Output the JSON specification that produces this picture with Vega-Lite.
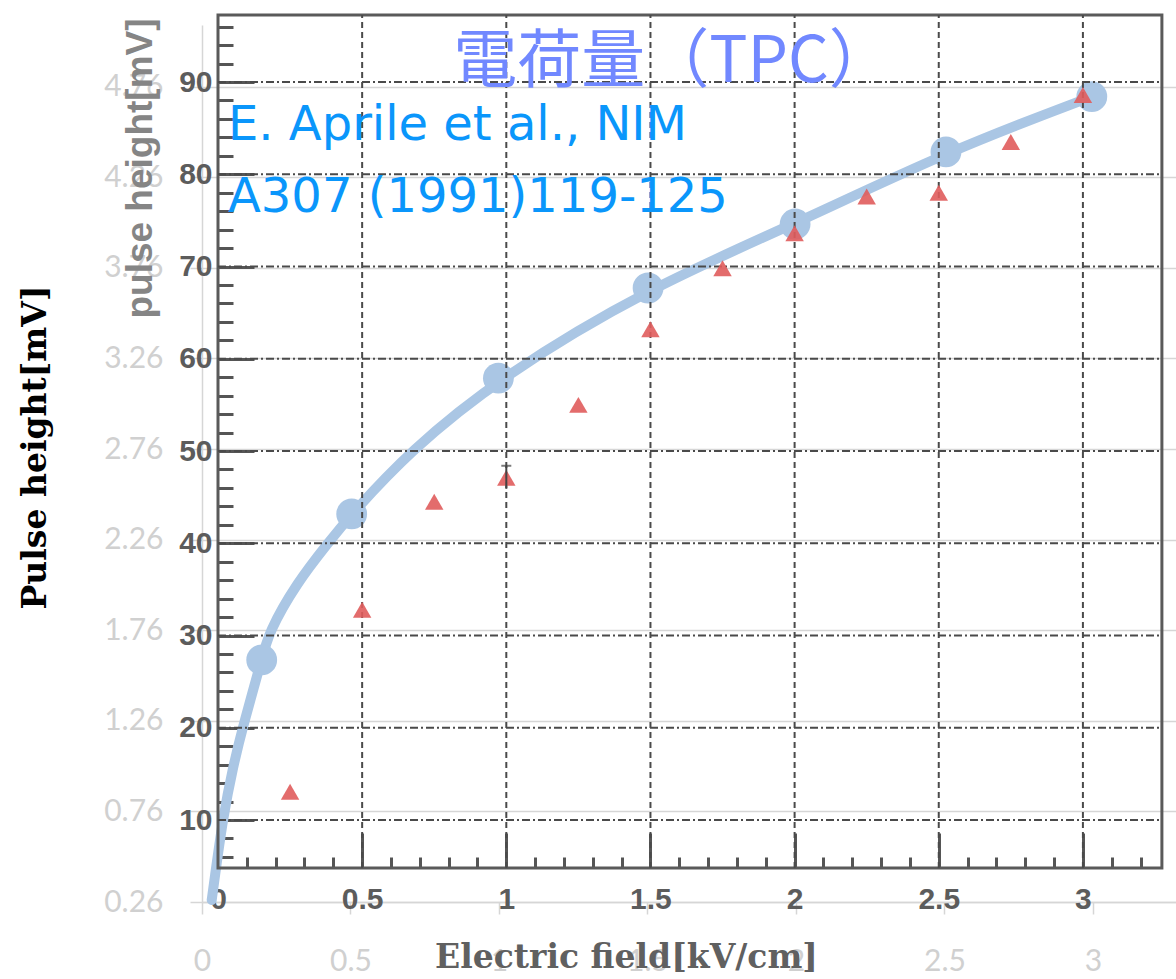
{
  "$schema": "https://vega.github.io/schema/vega-lite/v6.json",
  "width": 974,
  "height": 877,
  "autosize": {"type": "none"},
  "padding": {"left": 202, "top": 25, "right": 0, "bottom": 77},
  "background": "white",
  "config": {"view": {"stroke": null}},
  "datasets": {
    "fit": [
      {"E": 0.0327, "V": 0.271},
      {"E": 0.0404, "V": 0.365},
      {"E": 0.0707, "V": 0.729},
      {"E": 0.1044, "V": 1.005},
      {"E": 0.137, "V": 1.226},
      {"E": 0.201, "V": 1.596, "marker": true},
      {"E": 0.2232, "V": 1.745},
      {"E": 0.3189, "V": 2.021},
      {"E": 0.4242, "V": 2.241},
      {"E": 0.504, "V": 2.402, "marker": true},
      {"E": 0.7, "V": 2.749},
      {"E": 0.998, "V": 3.151, "marker": true},
      {"E": 1.502, "V": 3.649, "marker": true},
      {"E": 1.997, "V": 4.002, "marker": true},
      {"E": 2.505, "V": 4.4, "marker": true},
      {"E": 2.996, "V": 4.705, "marker": true}
    ],
    "pulse": [
      {"field": 0.25, "ph": 13.07},
      {"field": 0.5, "ph": 32.8},
      {"field": 0.75, "ph": 44.5},
      {"field": 1.0, "ph": 47.1, "lo": 45.9, "hi": 48.4},
      {"field": 1.25, "ph": 55.0},
      {"field": 1.5, "ph": 63.2},
      {"field": 1.75, "ph": 69.8},
      {"field": 2.0, "ph": 73.6},
      {"field": 2.25, "ph": 77.6},
      {"field": 2.5, "ph": 78.0},
      {"field": 2.75, "ph": 83.5},
      {"field": 3.0, "ph": 88.6}
    ],
    "hgrid": [{"g": 10}, {"g": 20}, {"g": 30}, {"g": 40}, {"g": 50}, {"g": 60}, {"g": 70}, {"g": 80}, {"g": 90}],
    "vgrid": [{"g": 0.5}, {"g": 1}, {"g": 1.5}, {"g": 2}, {"g": 2.5}, {"g": 3}]
  },
  "resolve": {"scale": {"x": "independent", "y": "independent"}},
  "layer": [
    {
      "data": {"name": "fit"},
      "mark": {"type": "line", "interpolate": "basis", "strokeWidth": 10, "color": "#aac6e4", "strokeCap": "round"},
      "encoding": {
        "x": {
          "field": "E", "type": "quantitative",
          "scale": {"domain": [0, 3.2795], "nice": false, "zero": false},
          "axis": {
            "orient": "bottom", "values": [0, 0.5, 1, 1.5, 2, 2.5, 3], "format": "~g",
            "grid": false, "domain": true, "domainColor": "#d6d6d6", "domainWidth": 1.5,
            "ticks": true, "tickSize": 12, "tickColor": "#d6d6d6", "tickWidth": 1.5,
            "labelColor": "#d0d0d0", "labelFont": "Lato", "labelFontSize": 30, "labelPadding": 32,
            "labelFlush": false, "labelOverlap": false,
            "title": "Electric field[kV/cm]", "titleFont": "DejaVu Serif", "titleFontWeight": "bold",
            "titleFontSize": 33, "titleColor": "#606060", "titleX": 424, "titleY": 55,
            "titleBaseline": "middle", "titleAlign": "center"
          }
        },
        "y": {
          "field": "V", "type": "quantitative",
          "scale": {"domain": [0.26, 5.1005], "nice": false, "zero": false},
          "axis": {
            "orient": "left", "values": [0.26, 0.76, 1.26, 1.76, 2.26, 2.76, 3.26, 3.76, 4.26, 4.76], "format": ".2f",
            "grid": true, "gridColor": "#d6d6d6", "gridWidth": 1.5,
            "domain": true, "domainColor": "#d6d6d6", "domainWidth": 1.5,
            "ticks": true, "tickSize": 12, "tickColor": "#d6d6d6", "tickWidth": 1.5,
            "labelColor": "#d0d0d0", "labelFont": "Lato", "labelFontSize": 30, "labelPadding": 27,
            "labelOverlap": false,
            "title": "Pulse height[mV]", "titleFont": "DejaVu Serif", "titleFontWeight": "bold",
            "titleFontSize": 33, "titleColor": "#000000", "titleX": -167, "titleY": 422,
            "titleAngle": 270, "titleBaseline": "middle", "titleAlign": "center"
          }
        }
      }
    },
    {
      "data": {"name": "fit"},
      "transform": [{"filter": "datum.marker"}],
      "mark": {"type": "circle", "size": 950, "color": "#aac6e4", "opacity": 1},
      "encoding": {
        "x": {"field": "E", "type": "quantitative", "scale": {"domain": [0, 3.2795], "nice": false, "zero": false}, "axis": null},
        "y": {"field": "V", "type": "quantitative", "scale": {"domain": [0.26, 5.1005], "nice": false, "zero": false}, "axis": null}
      }
    },
    {
      "data": {"values": [{}]},
      "mark": {"type": "rect", "filled": false, "fill": null, "stroke": "#5a5a5a", "strokeWidth": 3},
      "encoding": {
        "x": {"datum": 0, "type": "quantitative", "scale": {"domain": [-0.0555, 3.3229], "nice": false, "zero": false}, "axis": null},
        "x2": {"datum": 3.274},
        "y": {"datum": 4.797, "type": "quantitative", "scale": {"domain": [1.111, 96.18], "nice": false, "zero": false}, "axis": null},
        "y2": {"datum": 97.26}
      }
    },
    {
      "data": {"name": "hgrid"},
      "mark": {"type": "rule", "color": "#4a4a4a", "strokeWidth": 2, "strokeDash": [8, 3, 2, 3]},
      "encoding": {
        "x": {"datum": 0, "type": "quantitative", "scale": {"domain": [-0.0555, 3.3229], "nice": false, "zero": false}, "axis": null},
        "x2": {"datum": 3.274},
        "y": {"field": "g", "type": "quantitative", "scale": {"domain": [1.111, 96.18], "nice": false, "zero": false}, "axis": null}
      }
    },
    {
      "data": {"name": "vgrid"},
      "mark": {"type": "rule", "color": "#4a4a4a", "strokeWidth": 2, "strokeDash": [6, 4]},
      "encoding": {
        "x": {"field": "g", "type": "quantitative", "scale": {"domain": [-0.0555, 3.3229], "nice": false, "zero": false}, "axis": null},
        "y": {"datum": 4.797, "type": "quantitative", "scale": {"domain": [1.111, 96.18], "nice": false, "zero": false}, "axis": null},
        "y2": {"datum": 97.26}
      }
    },
    {
      "data": {"name": "pulse"},
      "mark": {"type": "point", "shape": "triangle-up", "filled": true, "size": 340, "color": "#e05c5c", "opacity": 0.9},
      "encoding": {
        "x": {
          "field": "field", "type": "quantitative",
          "scale": {"domain": [-0.0555, 3.3229], "nice": false, "zero": false},
          "axis": {
            "orient": "bottom", "offset": -34,
            "values": [0, 0.1, 0.2, 0.3, 0.4, 0.5, 0.6, 0.7, 0.8, 0.9, 1, 1.1, 1.2, 1.3, 1.4, 1.5, 1.6, 1.7, 1.8, 1.9, 2, 2.1, 2.2, 2.3, 2.4, 2.5, 2.6, 2.7, 2.8, 2.9, 3, 3.1, 3.2],
            "domain": false, "grid": false,
            "tickColor": "#555555", "tickWidth": 3,
            "tickSize": {"condition": {"test": "abs(datum.value*2 - round(datum.value*2)) < 0.001", "value": -35}, "value": -11},
            "labelExpr": "abs(datum.value*2 - round(datum.value*2)) < 0.001 ? format(datum.value, '~g') : ''",
            "labelFont": "Liberation Sans", "labelFontWeight": "bold", "labelFontSize": 30, "labelColor": "#5c5c5c",
            "labelPadding": 51, "labelFlush": false, "labelOverlap": false,
            "title": null
          }
        },
        "y": {
          "field": "ph", "type": "quantitative",
          "scale": {"domain": [1.111, 96.18], "nice": false, "zero": false},
          "axis": {
            "orient": "left", "offset": -16,
            "values": [6, 8, 10, 12, 14, 16, 18, 20, 22, 24, 26, 28, 30, 32, 34, 36, 38, 40, 42, 44, 46, 48, 50, 52, 54, 56, 58, 60, 62, 64, 66, 68, 70, 72, 74, 76, 78, 80, 82, 84, 86, 88, 90, 92, 94, 96],
            "domain": false, "grid": false,
            "tickColor": "#555555", "tickWidth": 3,
            "tickSize": {"condition": {"test": "datum.value % 10 == 0", "value": -36}, "value": -15},
            "labelExpr": "datum.value % 10 == 0 ? datum.label : ''",
            "labelFont": "Liberation Sans", "labelFontWeight": "bold", "labelFontSize": 30, "labelColor": "#5c5c5c",
            "labelPadding": 42, "labelOverlap": false,
            "title": "pulse height[mV]", "titleFont": "Liberation Sans", "titleFontWeight": "bold",
            "titleFontSize": 37, "titleColor": "#858585", "titleX": -78, "titleY": 143,
            "titleAngle": 270, "titleBaseline": "middle", "titleAlign": "center"
          }
        }
      }
    },
    {
      "data": {"name": "pulse"},
      "transform": [{"filter": "isValid(datum.hi)"}],
      "mark": {"type": "rule", "color": "#444444", "strokeWidth": 2},
      "encoding": {
        "x": {"field": "field", "type": "quantitative", "scale": {"domain": [-0.0555, 3.3229], "nice": false, "zero": false}, "axis": null},
        "y": {"field": "lo", "type": "quantitative", "scale": {"domain": [1.111, 96.18], "nice": false, "zero": false}, "axis": null},
        "y2": {"field": "hi"}
      }
    },
    {
      "data": {"name": "pulse"},
      "transform": [{"filter": "isValid(datum.hi)"}],
      "mark": {"type": "tick", "orient": "horizontal", "color": "#444444", "size": 10, "thickness": 2},
      "encoding": {
        "x": {"field": "field", "type": "quantitative", "scale": {"domain": [-0.0555, 3.3229], "nice": false, "zero": false}, "axis": null},
        "y": {"field": "hi", "type": "quantitative", "scale": {"domain": [1.111, 96.18], "nice": false, "zero": false}, "axis": null}
      }
    },
    {
      "data": {"values": [{"label": "電荷量（TPC）"}]},
      "mark": {"type": "text", "font": "Noto Sans CJK JP", "fontSize": 64, "color": "#7188ff", "align": "center", "baseline": "alphabetic"},
      "encoding": {
        "x": {"datum": 1.586, "type": "quantitative", "scale": {"domain": [0, 3.2795], "nice": false, "zero": false}, "axis": null},
        "y": {"datum": 4.786, "type": "quantitative", "scale": {"domain": [0.26, 5.1005], "nice": false, "zero": false}, "axis": null},
        "text": {"field": "label"}
      }
    },
    {
      "data": {"values": [{"label": "E. Aprile et al., NIM\nA307 (1991)119-125"}]},
      "mark": {"type": "text", "font": "DejaVu Sans", "fontSize": 48, "color": "#0a96fb", "align": "left", "baseline": "alphabetic", "lineBreak": "\n", "lineHeight": 72},
      "encoding": {
        "x": {"datum": 0.0875, "type": "quantitative", "scale": {"domain": [0, 3.2795], "nice": false, "zero": false}, "axis": null},
        "y": {"datum": 4.4657, "type": "quantitative", "scale": {"domain": [0.26, 5.1005], "nice": false, "zero": false}, "axis": null},
        "text": {"field": "label"}
      }
    }
  ]
}
